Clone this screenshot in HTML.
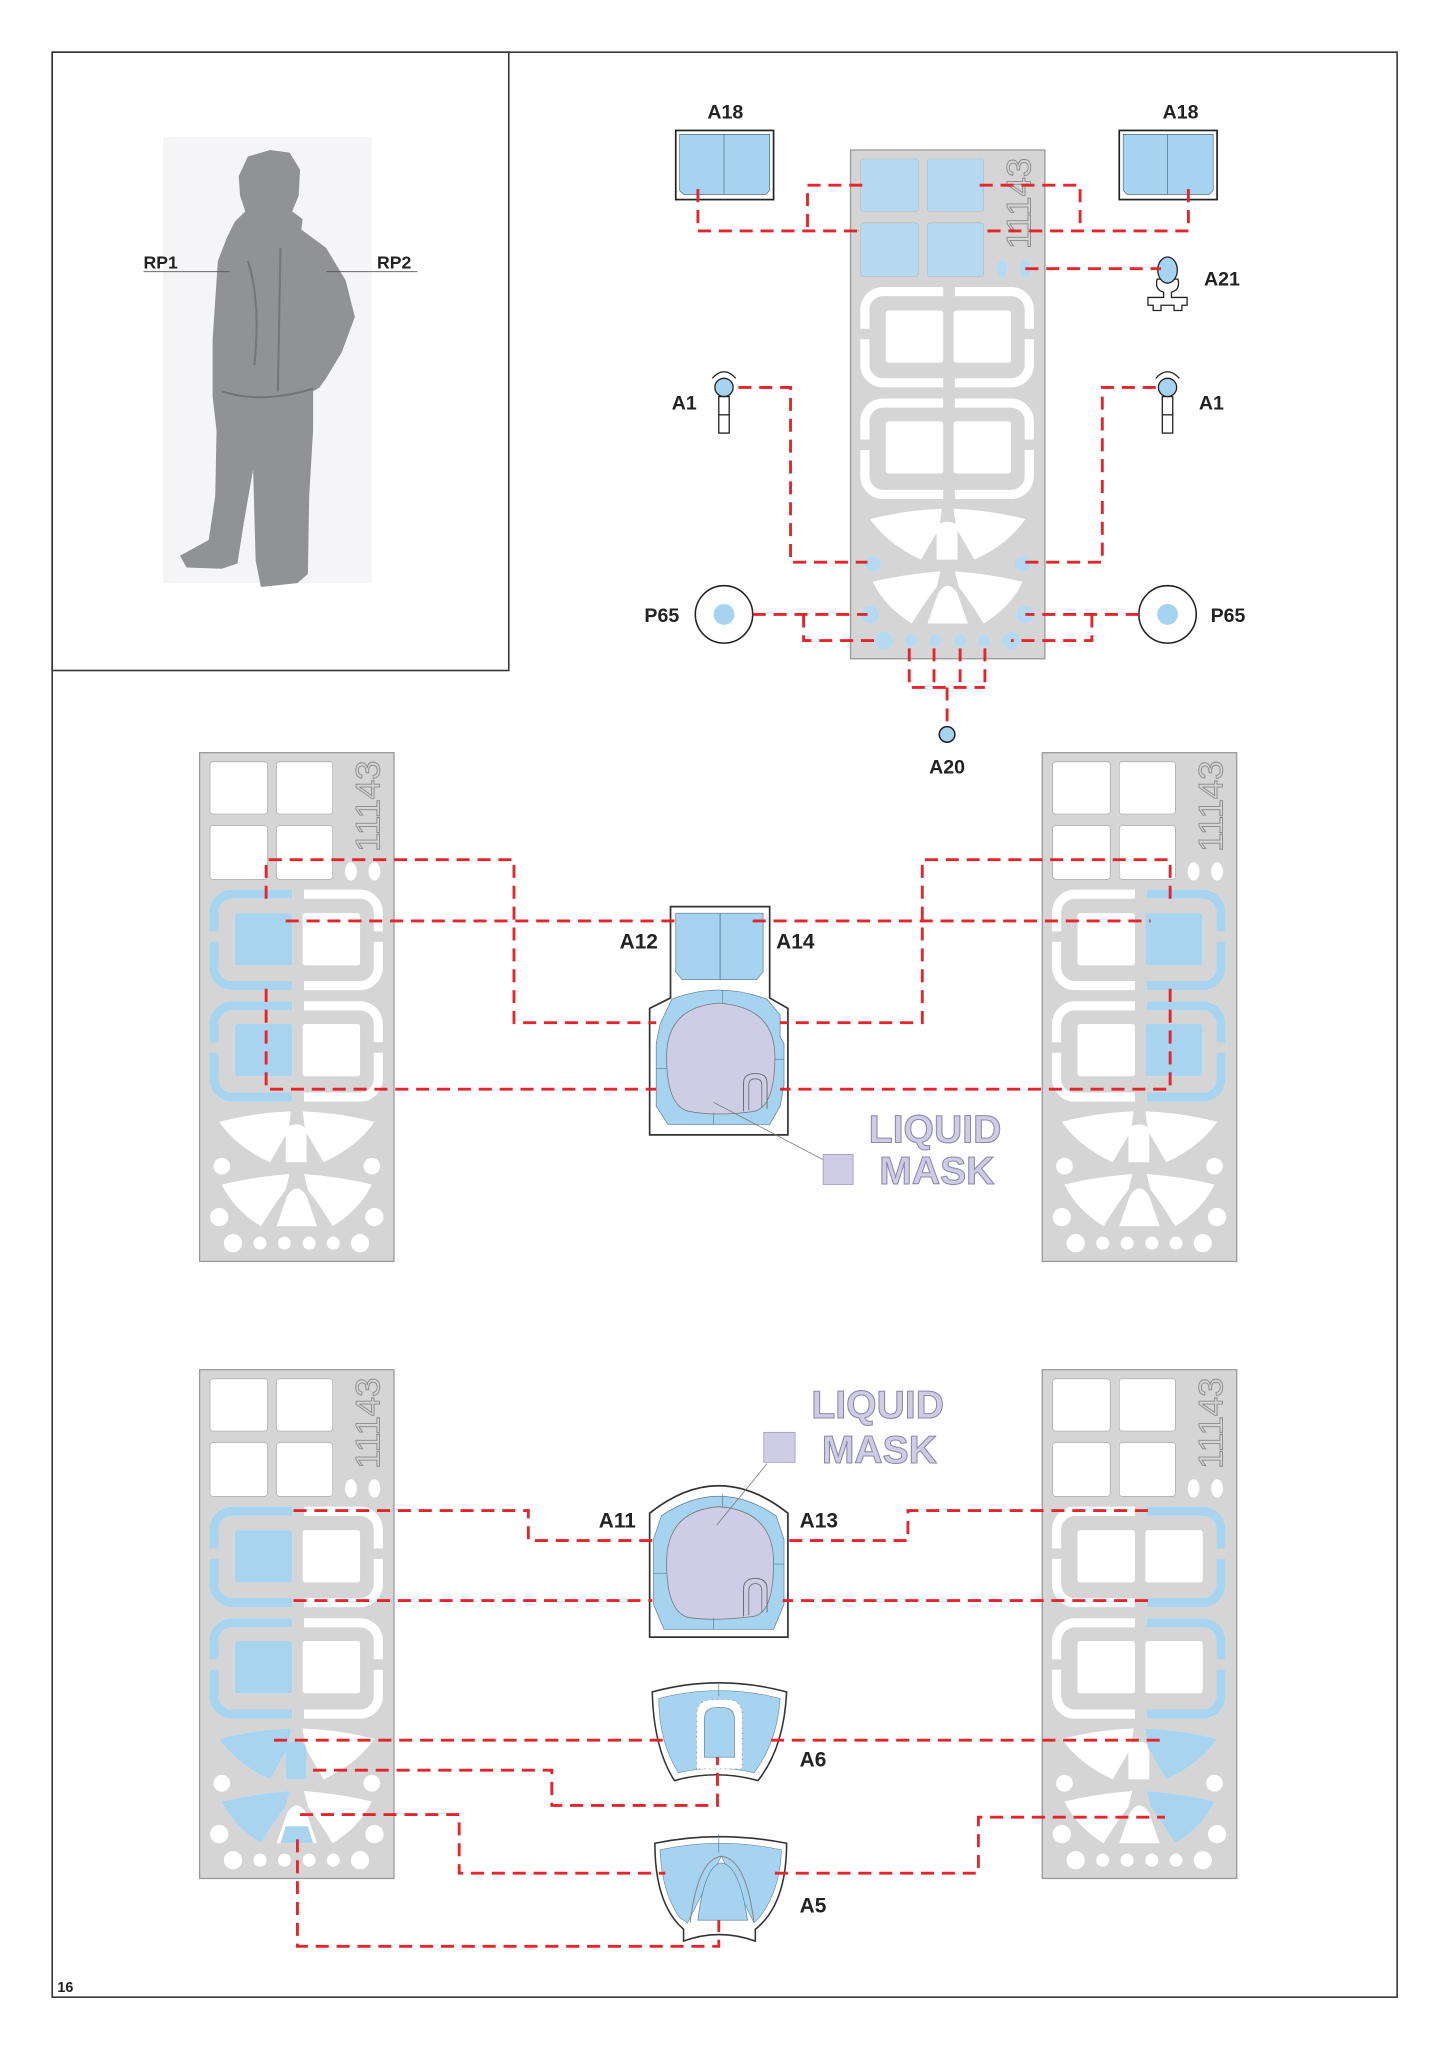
<!DOCTYPE html>
<html><head><meta charset="utf-8"><style>
html,body{margin:0;padding:0;background:#fff;}
svg{display:block;}
text{font-family:"Liberation Sans",Arial,sans-serif;}
</style></head><body>
<svg width="1448" height="2047" viewBox="0 0 1110 1569.2" xmlns="http://www.w3.org/2000/svg">
<defs>
<g id="fret">
  <rect x="0" y="0" width="149" height="390" fill="#d5d5d5" stroke="#9a9a9a" stroke-width="1"/>
  <rect x="8" y="7" width="44" height="40" rx="2" fill="#fff" stroke="#999" stroke-width=".4"/>
  <rect x="59" y="7" width="43" height="40" rx="2" fill="#fff" stroke="#999" stroke-width=".4"/>
  <rect x="8" y="56" width="44" height="41" rx="2" fill="#fff" stroke="#999" stroke-width=".4"/>
  <rect x="59" y="56" width="43" height="41" rx="2" fill="#fff" stroke="#999" stroke-width=".4"/>
  <text transform="translate(138,41) rotate(-90)" text-anchor="middle" font-size="26" textLength="70" lengthAdjust="spacingAndGlyphs" fill="none" stroke="#8a8a8a" stroke-width=".7">11143</text>
  <ellipse cx="116" cy="91" rx="4.5" ry="7" fill="#fff"/>
  <ellipse cx="134" cy="91" rx="4.5" ry="7" fill="#fff"/>
  <g fill="none" stroke="#fff" stroke-width="7">
    <path d="M71,108.5 H25 A14,14 0 0 0 11,122.5 V164.5 A14,14 0 0 0 25,178.5 H71"/>
    <path d="M80,108.5 H123 A14,14 0 0 1 137,122.5 V164.5 A14,14 0 0 1 123,178.5 H80"/>
    <path d="M71,194 H25 A14,14 0 0 0 11,208 V250 A14,14 0 0 0 25,264 H71"/>
    <path d="M80,194 H123 A14,14 0 0 1 137,208 V250 A14,14 0 0 1 123,264 H80"/>
  </g>
  <rect x="27" y="123" width="44" height="40" rx="2" fill="#fff"/>
  <rect x="79" y="123" width="44" height="40" rx="2" fill="#fff"/>
  <rect x="27" y="208" width="44" height="40" rx="2" fill="#fff"/>
  <rect x="79" y="208" width="44" height="40" rx="2" fill="#fff"/>
  <path d="M15,283 Q42,276 70,275 L68,290 Q62,300 54,314 Q28,302 15,283Z" fill="#fff"/>
  <path d="M15,283 Q42,276 70,275 L68,290 Q62,300 54,314 Q28,302 15,283Z" fill="#fff" transform="translate(149,0) scale(-1,1)"/>
  <path d="M66,314 V292 Q66,285 74,285 Q82,285 82,292 V314Z" fill="#fff"/>
  <circle cx="17" cy="317" r="6.4" fill="#fff"/><circle cx="132" cy="317" r="6.4" fill="#fff"/>
  <path d="M17,331 Q42,325 69,323 L66,335 Q56,348 47,363 Q26,350 17,331Z" fill="#fff"/>
  <path d="M17,331 Q42,325 69,323 L66,335 Q56,348 47,363 Q26,350 17,331Z" fill="#fff" transform="translate(149,0) scale(-1,1)"/>
  <path d="M59,363 L67,340 Q74.5,328 82,340 L90,363Z" fill="#fff"/>
  <circle cx="15" cy="356" r="7" fill="#fff"/><circle cx="134" cy="356" r="7" fill="#fff"/>
  <g fill="#fff"><circle cx="25.6" cy="376" r="7"/><circle cx="46.3" cy="376" r="5"/><circle cx="65" cy="376" r="5"/><circle cx="84" cy="376" r="5"/><circle cx="102.5" cy="376" r="5"/><circle cx="123" cy="376" r="7"/></g>
</g>
<g id="gaps" fill="#d5d5d5">
  <rect x="5" y="137" width="10" height="8"/><rect x="133" y="137" width="10" height="8"/>
  <rect x="5" y="222" width="10" height="8"/><rect x="133" y="222" width="10" height="8"/>
</g>
<g id="blueL">
  <g fill="none" stroke="#a9d4ef" stroke-width="7">
    <path d="M71,108.5 H25 A14,14 0 0 0 11,122.5 V164.5 A14,14 0 0 0 25,178.5 H71"/>
    <path d="M71,194 H25 A14,14 0 0 0 11,208 V250 A14,14 0 0 0 25,264 H71"/>
  </g>
</g>
<g id="blueR">
  <g fill="none" stroke="#a9d4ef" stroke-width="7">
    <path d="M80,108.5 H123 A14,14 0 0 1 137,122.5 V164.5 A14,14 0 0 1 123,178.5 H80"/>
    <path d="M80,194 H123 A14,14 0 0 1 137,208 V250 A14,14 0 0 1 123,264 H80"/>
  </g>
</g>
</defs>

<rect x="40" y="40" width="1031" height="1491" fill="none" stroke="#333" stroke-width="1.2"/>
<rect x="40" y="40" width="350" height="474" fill="none" stroke="#333" stroke-width="1.2"/>
<text x="44" y="1527" font-size="11" font-weight="bold" fill="#222">16</text>

<rect x="125" y="105" width="160" height="342" fill="#f5f4f6"/>
<polygon points="207,115 222,117 230,130 229,150 224,162 232,168 231,176 250,190 265,215 272,243 262,270 250,290 245,297 240,300 240,330 237,380 236,440 228,447 200,450 196,430 194,360 187,400 182,432 170,436 143,435 138,426 160,414 165,380 166,330 163,304 163,260 167,200 174,182 180,170 188,162 184,150 183,135 190,120" fill="#909296"/>
<path d="M190,200 Q200,230 195,280 M215,190 L213,300 M170,300 Q200,310 240,298" stroke="#727478" stroke-width="1.5" fill="none"/>
<text x="110" y="206" font-size="13.5" font-weight="bold" fill="#222">RP1</text>
<line x1="110" y1="208.3" x2="176" y2="208.3" stroke="#555" stroke-width=".7"/>
<text x="289" y="206" font-size="13.5" font-weight="bold" fill="#222">RP2</text>
<line x1="250" y1="208.3" x2="320" y2="208.3" stroke="#555" stroke-width=".7"/>

<use href="#fret" x="652" y="115"/>
<g transform="translate(652,115)" fill="#b4d9f1">
  <rect x="8" y="7" width="44" height="40" rx="2"/><rect x="59" y="7" width="43" height="40" rx="2"/>
  <rect x="8" y="56" width="44" height="41" rx="2"/><rect x="59" y="56" width="43" height="41" rx="2"/>
  <ellipse cx="116" cy="91" rx="4.5" ry="7"/><ellipse cx="134" cy="91" rx="4.5" ry="7"/>
  <circle cx="17" cy="317" r="6.4"/><circle cx="132" cy="317" r="6.4"/>
  <circle cx="15" cy="356" r="7"/><circle cx="134" cy="356" r="7"/>
  <circle cx="25.6" cy="376" r="7"/><circle cx="46.3" cy="376" r="5"/><circle cx="65" cy="376" r="5"/><circle cx="84" cy="376" r="5"/><circle cx="102.5" cy="376" r="5"/><circle cx="123" cy="376" r="7"/>
</g>
<use href="#gaps" x="652" y="115"/>

<use href="#fret" x="153" y="577"/>
<g transform="translate(153,577)"><use href="#blueL"/><rect x="27" y="123" width="44" height="40" rx="2" fill="#a9d4ef"/><rect x="27" y="208" width="44" height="40" rx="2" fill="#a9d4ef"/><use href="#gaps"/></g>
<use href="#fret" x="799" y="577"/>
<g transform="translate(799,577)"><use href="#blueR"/><rect x="79" y="123" width="44" height="40" rx="2" fill="#a9d4ef"/><rect x="79" y="208" width="44" height="40" rx="2" fill="#a9d4ef"/><use href="#gaps"/></g>

<use href="#fret" x="153" y="1050"/>
<g transform="translate(153,1050)" fill="#a9d4ef"><use href="#blueL"/><rect x="27" y="123" width="44" height="40" rx="2"/><rect x="27" y="208" width="44" height="40" rx="2"/><use href="#gaps"/>
  <path d="M15,283 Q42,276 70,275 L68,290 Q62,300 54,314 Q28,302 15,283Z"/>
  <path d="M17,331 Q42,325 69,323 L66,335 Q56,348 47,363 Q26,350 17,331Z"/>
  <path d="M66,314 V292 Q66,285 74,285 Q82,285 82,292 V314Z"/>
  <path d="M62,363 L66,350 H83 L87,363Z"/>
</g>
<use href="#fret" x="799" y="1050"/>
<g transform="translate(799,1050)" fill="#a9d4ef"><use href="#blueR"/><use href="#gaps"/>
  <g transform="translate(149,0) scale(-1,1)">
  <path d="M15,283 Q42,276 70,275 L68,290 Q62,300 54,314 Q28,302 15,283Z"/>
  <path d="M17,331 Q42,325 69,323 L66,335 Q56,348 47,363 Q26,350 17,331Z"/></g>
</g>

<g stroke="#222" stroke-width="1.3">
  <rect x="518" y="100" width="75" height="53" fill="#fff"/>
  <rect x="858" y="100" width="75" height="53" fill="#fff"/>
</g>
<g fill="#a5d3f0" stroke="#4a6a80" stroke-width=".5">
  <path d="M521,103 H590 V146 L587,149 H524 L521,146Z"/><line x1="555" y1="103" x2="555" y2="149"/>
  <path d="M861,103 H930 V146 L927,149 H864 L861,146Z"/><line x1="895" y1="103" x2="895" y2="149"/>
</g>
<g font-size="15" font-weight="bold" fill="#222">
  <text x="556" y="91" text-anchor="middle">A18</text>
  <text x="905" y="91" text-anchor="middle">A18</text>
  <text x="923" y="219">A21</text>
  <text x="515" y="314">A1</text>
  <text x="919" y="314">A1</text>
  <text x="494" y="477">P65</text>
  <text x="928" y="477">P65</text>
  <text x="726" y="593" text-anchor="middle">A20</text>
</g>
<g stroke="#222" stroke-width="1" fill="#fff">
  <path d="M887,214 Q885,222 892,224 V228 H880 V234 H884 V238 H890 V234 H900 V238 H906 V234 H910 V228 H898 V224 Q905,222 903,214Z"/>
  <ellipse cx="895" cy="207" rx="7.5" ry="10" fill="#a5d3f0"/>
</g>
<g stroke="#222" stroke-width="1" fill="#fff">
  <path d="M546,290 Q555,280 564,290"/><rect x="551" y="304" width="8" height="28"/><line x1="551" y1="318" x2="559" y2="318"/>
  <circle cx="555" cy="297" r="7" fill="#a5d3f0"/>
  <path d="M886,290 Q895,280 904,290"/><rect x="891" y="304" width="8" height="28"/><line x1="891" y1="318" x2="899" y2="318"/>
  <circle cx="895" cy="297" r="7" fill="#a5d3f0"/>
</g>
<g stroke="#222" stroke-width="1.2">
  <circle cx="555" cy="471" r="22" fill="#fff"/><circle cx="555" cy="471" r="8" fill="#a5d3f0" stroke="none"/>
  <circle cx="895" cy="471" r="22" fill="#fff"/><circle cx="895" cy="471" r="8" fill="#a5d3f0" stroke="none"/>
  <circle cx="726" cy="563" r="6" fill="#a5d3f0"/>
</g>

<path d="M514,695 H590 V765 L604,773 V870 H498 V773 L514,765Z" fill="#fff" stroke="#333" stroke-width="1.3"/>
<path d="M518,700 H585 V745 L580,751 H523 L518,745Z" fill="#a5d3f0" stroke="#5a7a90" stroke-width=".5"/>
<line x1="552" y1="700" x2="552" y2="751" stroke="#4a6a80" stroke-width=".6"/>
<path d="M515,766 Q551,752 588,766 L598,778 V795 L601,800 V832 L598,848 L590,862 H512 L503,848 V800 L506,785Z" fill="#a5d3f0" stroke="#5a7a90" stroke-width=".5"/>
<path d="M511,810 Q511,772 551,769 Q594,772 594,810 Q594,848 578,852 Q550,856 528,852 Q511,848 511,810Z" fill="#cfcde6" stroke="#777" stroke-width=".6"/>
<path d="M570,852 V830 Q570,823 579,823 Q588,823 588,830 V850" fill="none" stroke="#666" stroke-width=".7"/>
<path d="M574,851 V832 Q574,827 579,827 Q584,827 584,832 V849" fill="none" stroke="#666" stroke-width=".6"/>
<g stroke="#5a7a90" stroke-width=".5"><line x1="554" y1="759" x2="554" y2="769"/><line x1="547" y1="853" x2="547" y2="862"/><line x1="503" y1="819" x2="511" y2="819"/><line x1="594" y1="812" x2="601" y2="812"/></g>
<line x1="547" y1="845" x2="631" y2="889" stroke="#777" stroke-width=".6"/>
<rect x="631" y="885" width="23" height="23" fill="#cfcde6" stroke="#9a98b8" stroke-width=".6"/>
<g font-size="30" font-weight="bold" fill="#cfcde6" stroke="#8a88a8" stroke-width=".8">
  <text x="666" y="876">LIQUID</text><text x="674" y="907.5">MASK</text>
  <text x="622" y="1087">LIQUID</text><text x="630" y="1121.5">MASK</text>
</g>
<g font-size="16" font-weight="bold" fill="#222">
  <text x="475" y="727">A12</text><text x="595" y="727">A14</text>
  <text x="459" y="1171">A11</text><text x="613" y="1171">A13</text>
  <text x="613" y="1354">A6</text><text x="613" y="1466">A5</text>
</g>

<path d="M498,1255 V1160 Q551,1118 604,1160 V1255Z" fill="#fff" stroke="#333" stroke-width="1.3"/>
<path d="M507,1162 Q551,1132 595,1162 L601,1180 V1230 L593,1249 H509 L501,1230 V1180Z" fill="#a5d3f0" stroke="#5a7a90" stroke-width=".5"/>
<path d="M511,1198 Q511,1158 551,1155 Q593,1158 593,1198 Q593,1236 578,1239 Q550,1243 528,1240 Q511,1236 511,1198Z" fill="#cfcde6" stroke="#777" stroke-width=".6"/>
<path d="M570,1239 V1218 Q570,1210 579,1210 Q588,1210 588,1218 V1236" fill="none" stroke="#666" stroke-width=".7"/>
<path d="M574,1238 V1220 Q574,1214 579,1214 Q584,1214 584,1220 V1236" fill="none" stroke="#666" stroke-width=".6"/>
<g stroke="#5a7a90" stroke-width=".5"><line x1="554" y1="1145" x2="554" y2="1155"/><line x1="547" y1="1240" x2="547" y2="1249"/><line x1="501" y1="1206" x2="511" y2="1206"/><line x1="593" y1="1199" x2="601" y2="1199"/></g>
<line x1="549.5" y1="1169" x2="588" y2="1122" stroke="#777" stroke-width=".6"/>
<rect x="585.5" y="1098" width="24" height="23" fill="#cfcde6" stroke="#9a98b8" stroke-width=".6"/>

<path d="M500,1297 Q551,1283 603,1297 Q601,1340 581,1365 Q549,1356 517,1365 Q501,1340 500,1297Z" fill="#fff" stroke="#333" stroke-width="1.2"/>
<path d="M505,1302 Q551,1290 598,1302 Q596,1335 578,1359 Q549,1352 520,1359 Q505,1335 505,1302Z" fill="#a5d3f0" stroke="#5a7a90" stroke-width=".4"/>
<line x1="551" y1="1291" x2="551" y2="1300" stroke="#5a7a90" stroke-width=".5"/>
<path d="M534,1356 V1315 Q534,1303 546,1303 H557 Q569,1303 569,1315 V1356Z" fill="#fff" stroke="#888" stroke-width=".6" stroke-dasharray="1 3"/>
<path d="M540,1347 V1318 Q540,1309 549,1309 H554 Q563,1309 563,1318 V1347Z" fill="#a5d3f0" stroke="#5a7a90" stroke-width=".5"/>
<path d="M502,1413 Q551,1403 603,1413 Q603,1460 579,1479 L579,1488 Q551,1478 524,1488 L524,1479 Q502,1460 502,1413Z" fill="#fff" stroke="#333" stroke-width="1.2"/>
<path d="M506,1418 Q551,1408 599,1418 Q598,1450 582,1470 L578,1474 L553,1423 L527,1474 L521,1470 Q507,1450 506,1418Z" fill="#a5d3f0" stroke="#5a7a90" stroke-width=".4"/>
<path d="M529,1474 Q535,1425 553,1423 Q572,1425 578,1474" fill="none" stroke="#888" stroke-width=".8"/>
<path d="M535,1472 Q540,1430 553,1428 Q567,1430 573,1472Z" fill="#a5d3f0" stroke="#5a7a90" stroke-width=".5"/>
<line x1="551" y1="1406" x2="551" y2="1420" stroke="#5a7a90" stroke-width=".5"/>

<g fill="none" stroke="#e3262b" stroke-width="2.2" stroke-dasharray="10 6">
  <path d="M661,142 H619 V177"/><path d="M535,145 V177 H661"/>
  <path d="M751,142 H828 V177"/><path d="M911,145 V177 H751"/>
  <path d="M786,206 H890"/>
  <path d="M566,297 H606 V431 H665"/><path d="M886,297 H845 V431 H783"/>
  <path d="M577,471 H665"/><path d="M616,471 V491 H672"/>
  <path d="M873,471 H786"/><path d="M837,471 V491 H775"/>
  <path d="M697,497 V527 H755"/><path d="M716,497 V527"/><path d="M736,497 V527"/><path d="M755,497 V527"/><path d="M726,527 V556"/>

  <path d="M204,689 V659 H394 V784 H503"/><path d="M219,706 H521"/><path d="M204,758 V835 H503"/>
  <path d="M897,689 V659 H707 V784 H598"/><path d="M577,706 H882"/><path d="M897,758 V835 H598"/>

  <path d="M225,1158 H405 V1181 H500"/><path d="M225,1227 H500"/>
  <path d="M880,1158 H696 V1181 H600"/><path d="M880,1227 H600"/>
  <path d="M210,1334 H513"/><path d="M591,1334 H890"/>
  <path d="M240,1357 H423 V1384 H550 V1347"/>
  <path d="M230,1391 H352 V1436 H510"/><path d="M594,1436 H750 V1393 H893"/>
  <path d="M228,1410 V1492 H551 V1472"/>
</g>
</svg>
</body></html>
